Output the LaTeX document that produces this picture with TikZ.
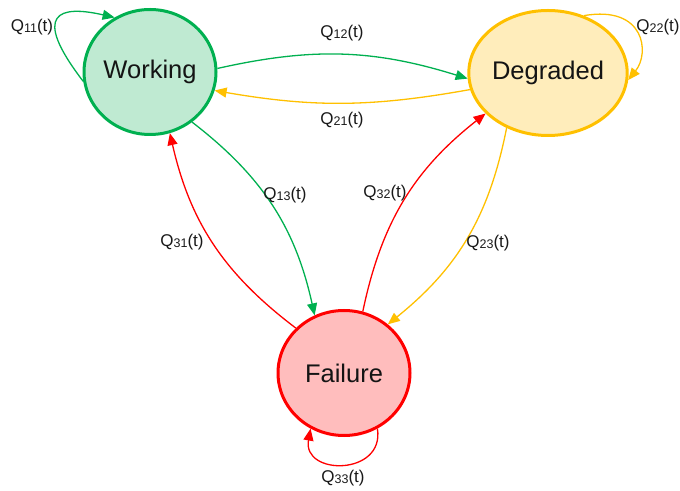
\documentclass[tikz,border=0pt]{standalone}
\usepackage{fontspec}
\setmainfont{Liberation Sans}
\usetikzlibrary{arrows.meta,shapes.geometric}
\definecolor{wgreen}{HTML}{00B050}
\definecolor{wfill}{HTML}{BFEAD2}
\definecolor{dyellow}{HTML}{FFC000}
\definecolor{dfill}{HTML}{FFEDBB}
\definecolor{fred}{HTML}{FF0000}
\definecolor{ffill}{HTML}{FFBDBD}
% transition label Q_{ij}(t)
\newcommand{\qlab}[1]{Q{\fontsize{12.5}{13}\selectfont\raisebox{-1pt}{#1}}(t)}
\begin{document}
\begin{tikzpicture}[x=1pt,y=1pt,
  state/.style={ellipse,draw,line width=3pt,inner sep=0pt,
    minimum width=132pt,minimum height=125pt,
    font=\fontsize{25.5}{27}\selectfont,text=black!92},
  trans/.style={line width=1.3pt,-{Triangle[length=12pt,width=10pt]}},
  lab/.style={inner sep=0pt,font=\fontsize{17}{19}\selectfont,text=black!90}]
\useasboundingbox (0,0) rectangle (680,490);

% states
\node[state,draw=wgreen,fill=wfill] (W) at (150,418) {Working};
\node[state,draw=dyellow,fill=dfill] (D) at (548,417) {Degraded};
\node[state,draw=fred,fill=ffill] (F) at (344,117) {Failure};

% transitions between states
\draw[trans,wgreen] (W.3) to[bend left=15] (D.184);
\draw[trans,dyellow] (D.192) to[bend left=10] (W.-16);
\draw[trans,wgreen] (W.-50) to[bend left=20] (F.117);
\draw[trans,fred] (F.137) to[bend left=20] (W.-72);
\draw[trans,fred] (F.73) to[bend left=20] (D.213);
\draw[trans,dyellow] (D.233) to[bend left=20] (F.48);

% self loops
\draw[trans,wgreen] (W.188) .. controls (30,478) and (60,485) .. (W.123);
\draw[trans,dyellow] (D.58) .. controls (645,485) and (650,437) .. (D.-5);
\draw[trans,fred] (F.-59) .. controls (385,14) and (302,14) .. (F.-121);

% labels
\node[lab] (l11) at (32,463) {\qlab{11}};
\node[lab] (l12) at (342,457) {\qlab{12}};
\node[lab] (l21) at (342,370) {\qlab{21}};
\node[lab] (l22) at (658,463) {\qlab{22}};
\node[lab] (l13) at (285,295) {\qlab{13}};
\node[lab] (l31) at (182,248) {\qlab{31}};
\node[lab] (l32) at (385,297) {\qlab{32}};
\node[lab] (l23) at (488,247) {\qlab{23}};
\node[lab] (l33) at (343,12) {\qlab{33}};
\end{tikzpicture}
\end{document}
